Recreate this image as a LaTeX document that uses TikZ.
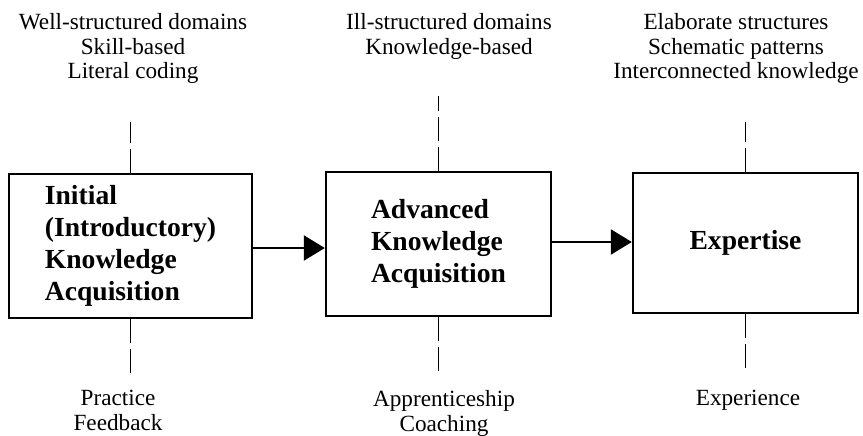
\documentclass[tikz,border=0pt]{standalone}
\usepackage{fontspec}
\setmainfont{Liberation Serif}
\usetikzlibrary{arrows.meta}
\begin{document}
\begin{tikzpicture}[x=0.5pt,y=-0.5pt,
  stage/.style={draw, line width=1.2pt, inner sep=0pt, align=left, font=\fontsize{13.8}{16}\selectfont\bfseries},
  lbl/.style={inner sep=0pt, align=center, anchor=north, font=\fontsize{11.6}{12.3}\selectfont},
  dashline/.style={line width=0.9pt, dash pattern=on 12pt off 3pt},
  flow/.style={line width=1.2pt, -{Triangle[length=10.5pt,width=12.5pt]}}]
\useasboundingbox (0,0) rectangle (863,435);
% boxes
\node[stage, minimum width=121.5pt, minimum height=72pt] (b1) at (130.5,246) {Initial\\(Introductory)\\Knowledge\\Acquisition};
\node[stage, minimum width=112.5pt, minimum height=72pt] (b2) at (438.5,244) {Advanced\\Knowledge\\Acquisition};
\node[stage, minimum width=112.5pt, minimum height=70pt] (b3) at (745.5,243) {Expertise};
% dashed stubs
\coordinate (t1) at ([yshift=25.5pt]b1.north);
\coordinate (t2) at ([yshift=37.5pt]b2.north);
\coordinate (t3) at ([yshift=25pt]b3.north);
\coordinate (u1) at ([yshift=-27.5pt]b1.south);
\coordinate (u2) at ([yshift=-27pt]b2.south);
\coordinate (u3) at ([yshift=-28.5pt]b3.south);
\draw[dashline] (b1.north) -- (t1);
\draw[dashline] (b2.north) -- (t2);
\draw[dashline] (b3.north) -- (t3);
\draw[dashline] (b1.south) -- (u1);
\draw[dashline] (b2.south) -- (u2);
\draw[dashline] (b3.south) -- (u3);
% flow arrows
\draw[flow] ([yshift=-1pt]b1.east) -- ([yshift=-1pt]b1.east -| b2.west);
\draw[flow] ([yshift=1pt]b2.east) -- ([yshift=1pt]b2.east -| b3.west);
% labels
\node[lbl] (l1) at (133,13) {Well-structured domains\\Skill-based\\Literal coding};
\node[lbl] (l2) at (449,13) {Ill-structured domains\\Knowledge-based};
\node[lbl] (l3) at (736,13) {Elaborate structures\\Schematic patterns\\Interconnected knowledge};
\node[lbl] (m1) at (118,390) {Practice\\Feedback};
\node[lbl] (m2) at (444,390) {Apprenticeship\\Coaching};
\node[lbl] (m3) at (748,390) {Experience};
\end{tikzpicture}
\end{document}
